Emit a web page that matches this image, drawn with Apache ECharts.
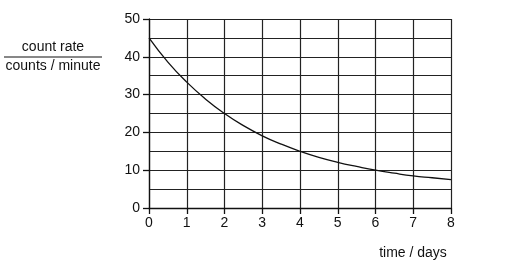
<!DOCTYPE html>
<html><head><meta charset="utf-8">
<script src="https://cdn.jsdelivr.net/npm/echarts@6/dist/echarts.min.js"></script>
<style>html,body{margin:0;padding:0;background:#fff}#c{width:513px;height:269px}</style>
</head><body><div id="c"></div>
<script>
const timeDays = [0,0.5,1,1.5,2,2.5,3,3.5,4,4.5,5,5.5,6,6.5,7,7.5,8];
const countRate = [45,38.6,33.3,28.8,25,21.8,19.1,16.9,15,13.4,12.1,11,10,9.2,8.5,8,7.5];
const xTicks = [0,1,2,3,4,5,6,7,8];
const yTicks = [0,10,20,30,40,50];
const yLabelTop = 'count rate';
const yLabelBottom = 'counts / minute';
const xLabel = 'time / days';

const chart = echarts.init(document.getElementById('c'), null, {renderer:'canvas'});
const font = 'Liberation Sans, Arial, sans-serif';
chart.setOption({
  animation:false,
  grid:{left:149, right:62, top:19, bottom:61},
  xAxis:{type:'value', min:xTicks[0], max:xTicks[xTicks.length-1], interval:1,
    axisLine:{show:true, onZero:false, lineStyle:{color:'#111', width:1.3}},
    axisTick:{show:true, inside:false, length:6, lineStyle:{color:'#111', width:1.3}},
    axisLabel:{color:'#111', fontSize:14, fontFamily:font, margin:8},
    splitLine:{show:true, lineStyle:{color:'#222', width:1.2}}},
  yAxis:{type:'value', min:yTicks[0], max:yTicks[yTicks.length-1], interval:10,
    axisLine:{show:true, lineStyle:{color:'#111', width:1.3}},
    axisTick:{show:true, length:6, lineStyle:{color:'#111', width:1.3}},
    axisLabel:{color:'#111', fontSize:14, fontFamily:font, margin:9},
    splitLine:{show:true, lineStyle:{color:'#222', width:1.2}},
    minorTick:{show:false, splitNumber:2},
    minorSplitLine:{show:true, lineStyle:{color:'#222', width:1.2}}},
  series:[{type:'line', data:timeDays.map((t,i)=>[t,countRate[i]]), smooth:true, showSymbol:false,
    lineStyle:{color:'#111', width:1.3}}],
  graphic:[
    {type:'text', style:{text:yLabelTop, x:53, y:47, textAlign:'center', textVerticalAlign:'middle', font:'14px '+font, fill:'#111'}},
    {type:'line', shape:{x1:4, y1:57, x2:102, y2:57}, style:{stroke:'#111', lineWidth:1.2}},
    {type:'text', style:{text:yLabelBottom, x:53, y:66, textAlign:'center', textVerticalAlign:'middle', font:'14px '+font, fill:'#111'}},
    {type:'text', style:{text:xLabel, x:413, y:253, textAlign:'center', textVerticalAlign:'middle', font:'14px '+font, fill:'#111'}}
  ]
});
</script></body></html>
